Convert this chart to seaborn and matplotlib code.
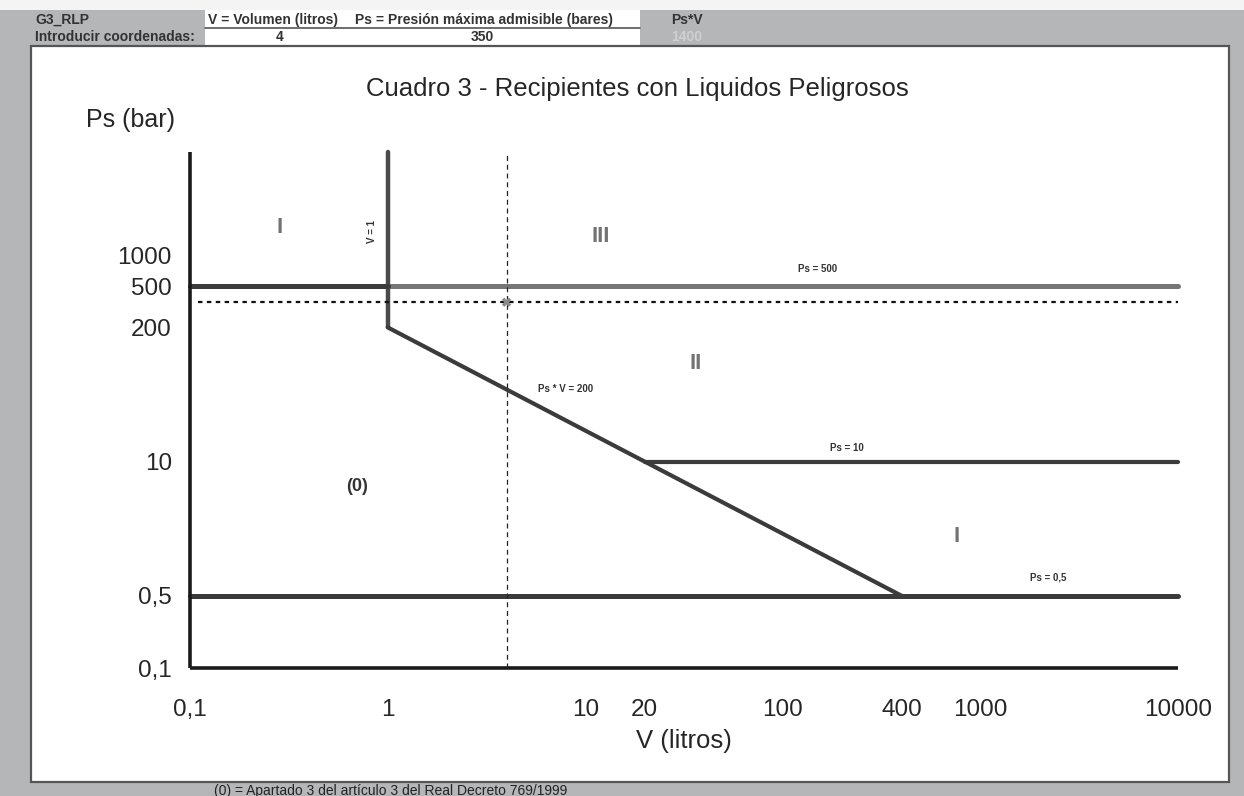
import matplotlib
matplotlib.use("Agg")
import matplotlib.pyplot as plt
import seaborn as sns
import numpy as np
import pandas as pd
from matplotlib.patches import Rectangle
from matplotlib.lines import Line2D
from matplotlib.ticker import FixedLocator, FixedFormatter

# ---------------- data ----------------
title = "Cuadro 3 - Recipientes con Liquidos Peligrosos"
x_label = "V (litros)"
y_label = "Ps (bar)"

x_major = [0.1, 1, 10, 100, 1000, 10000]
x_major_labels = ["0,1", "1", "10", "100", "1000", "10000"]
x_minor = [20, 400]
x_minor_labels = ["20", "400"]

y_major = [0.1, 10, 1000]
y_major_labels = ["0,1", "10", "1000"]
y_minor = [0.5, 200, 500]
y_minor_labels = ["0,5", "200", "500"]

# boundary segments (V, Ps)
v_eq1_x = [1, 1]
v_eq1_y = [10000, 200]
diag_x = [1, 400]
diag_y = [200, 0.5]
ps500_left_x = [0.1, 1]
ps500_left_y = [500, 500]
ps500_right_x = [1, 10000]
ps500_right_y = [500, 500]
ps10_x = [20, 10000]
ps10_y = [10, 10]
ps05_x = [0.1, 10000]
ps05_y = [0.5, 0.5]

# user input point
input_v = 4
input_ps = 350
input_psv = input_v * input_ps

# annotations: text, V, Ps
line_labels = ["Ps = 500", "Ps * V = 200", "Ps = 10", "Ps = 0,5"]
line_label_v = [150, 8, 210, 2200]
line_label_ps = [740, 50, 13.5, 0.75]

region_labels = ["I", "III", "II", "I"]
region_v = [0.285, 12, 36, 760]
region_ps = [1870, 1530, 90, 1.9]

# ---------------- figure ----------------
sns.set_theme(style="white")
plt.rcParams["font.family"] = ["Liberation Sans", "DejaVu Sans"]

W, H = 1244, 796
fig = plt.figure(figsize=(W / 100, H / 100), dpi=100)
grey = "#b5b6b8"
fig.patch.set_facecolor(grey)

def fx(px):
    return px / W

def fy(py):
    return 1 - py / H

# top light strip
fig.patches.append(Rectangle((0, fy(10)), 1, 10 / H, transform=fig.transFigure,
                             facecolor="#f4f4f4", edgecolor="none", zorder=-3))
# white input cells
fig.patches.append(Rectangle((fx(205), fy(45)), fx(640 - 205), 35 / H, transform=fig.transFigure,
                             facecolor="white", edgecolor="none", zorder=-3))
fig.add_artist(Line2D([fx(205), fx(640)], [fy(28), fy(28)], color="#555555", lw=1.2,
                      transform=fig.transFigure, zorder=-2))
# chart box
fig.patches.append(Rectangle((fx(31), fy(782)), fx(1229 - 31), (782 - 46) / H,
                             transform=fig.transFigure, facecolor="white",
                             edgecolor="#555555", lw=1.6, zorder=-3))

hdr = dict(fontsize=10, fontweight="bold", color="#333333", va="center")
fig.text(fx(35), fy(20), "G3_RLP", ha="left", **hdr)
fig.text(fx(35), fy(37), "Introducir coordenadas:", ha="left", **hdr)
fig.text(fx(208), fy(20), "V = Volumen (litros)", ha="left", **hdr)
fig.text(fx(613), fy(20), "Ps = Presión máxima admisible (bares)", ha="right", **hdr)
fig.text(fx(280), fy(37), f"{input_v}", ha="center", **hdr)
fig.text(fx(482), fy(37), f"{input_ps}", ha="center", **hdr)
fig.text(fx(687), fy(20), "Ps*V", ha="center", **hdr)
fig.text(fx(687), fy(37), f"{input_psv}", ha="center", fontsize=10, fontweight="bold",
         color="#cfcfd1", va="center")
fig.text(fx(214), fy(791), "(0) = Apartado 3 del artículo 3 del Real Decreto 769/1999",
         ha="left", va="center", fontsize=10, color="#222222")

# axes: x from 190 to 1178 px, y from 152 (1e4) to 668 (0.1)
ax = fig.add_axes([fx(190), fy(668), fx(1178 - 190), (668 - 152) / H])
ax.set_zorder(2)
ax.set_facecolor("none")
ax.set_xscale("log")
ax.set_yscale("log")

dark = "#3b3b3b"
sns.lineplot(x=v_eq1_x, y=v_eq1_y, ax=ax, color="#4a4a4a", lw=3.2, sort=False, estimator=None,
             solid_capstyle="round")
sns.lineplot(x=diag_x, y=diag_y, ax=ax, color=dark, lw=3.0, sort=False, estimator=None)
sns.lineplot(x=ps500_right_x, y=ps500_right_y, ax=ax, color="#767676", lw=3.6, sort=False,
             estimator=None, solid_capstyle="round")
sns.lineplot(x=ps500_left_x, y=ps500_left_y, ax=ax, color=dark, lw=3.6, sort=False,
             estimator=None, solid_capstyle="round")
sns.lineplot(x=ps10_x, y=ps10_y, ax=ax, color=dark, lw=3.0, sort=False, estimator=None,
             solid_capstyle="round")
sns.lineplot(x=ps05_x, y=ps05_y, ax=ax, color=dark, lw=3.6, sort=False, estimator=None,
             solid_capstyle="round")
for ln in ax.lines:
    ln.set_clip_on(False)

# input crosshair
ax.plot([0.11, 10000], [input_ps, input_ps], color="#111111", lw=1.6, ls=(0, (2, 2)))
ax.plot([input_v, input_v], [0.1, 10000], color="#222222", lw=0.9, ls=(0, (4, 3)))
sns.scatterplot(x=[input_v], y=[input_ps], ax=ax, marker="X", s=45, color="#8a8a8a",
                edgecolor="none", zorder=5)

ax.set_xlim(0.1, 10000)
ax.set_ylim(0.1, 10000)

for s in ["top", "right"]:
    ax.spines[s].set_visible(False)
for s in ["left", "bottom"]:
    ax.spines[s].set_linewidth(2.6)
    ax.spines[s].set_color("#1a1a1a")
    ax.spines[s].set_capstyle("butt")

ax.xaxis.set_major_locator(FixedLocator(x_major))
ax.xaxis.set_major_formatter(FixedFormatter(x_major_labels))
ax.xaxis.set_minor_locator(FixedLocator(x_minor))
ax.xaxis.set_minor_formatter(FixedFormatter(x_minor_labels))
ax.yaxis.set_major_locator(FixedLocator(y_major))
ax.yaxis.set_major_formatter(FixedFormatter(y_major_labels))
ax.yaxis.set_minor_locator(FixedLocator(y_minor))
ax.yaxis.set_minor_formatter(FixedFormatter(y_minor_labels))

ax.tick_params(axis="both", which="major", direction="out", length=8, width=2.2,
               color="#1a1a1a", labelsize=17.5, labelcolor="#262626")
ax.tick_params(axis="both", which="minor", length=0, labelsize=17.5, labelcolor="#262626")
ax.tick_params(axis="x", which="major", pad=14)
ax.tick_params(axis="x", which="minor", pad=22)
ax.tick_params(axis="y", which="major", pad=5)
ax.tick_params(axis="y", which="minor", pad=13)

ax.set_xlabel(x_label, fontsize=18.5, color="#262626", labelpad=6)
ax.set_ylabel("")
fig.text(fx(131), fy(120), y_label, ha="center", va="center", fontsize=18, color="#262626")
fig.text(fx(637), fy(89), title, ha="center", va="center", fontsize=18.5, color="#262626")

for t, v, p in zip(line_labels, line_label_v, line_label_ps):
    ax.text(v, p, t, ha="center", va="center", fontsize=7, fontweight="bold", color="#333333")
ax.text(0.83, 1711, "V = 1", rotation=90, ha="center", va="center", fontsize=7,
        fontweight="bold", color="#333333")
for t, v, p in zip(region_labels, region_v, region_ps):
    ax.text(v, p, t, ha="center", va="center", fontsize=16, fontweight="bold", color="#737373")
ax.text(0.7, 5.7, "(0)", ha="center", va="center", fontsize=13, fontweight="bold", color="#333333")

ax.grid(False)
fig.savefig("out.png", dpi=100, facecolor=fig.get_facecolor())
